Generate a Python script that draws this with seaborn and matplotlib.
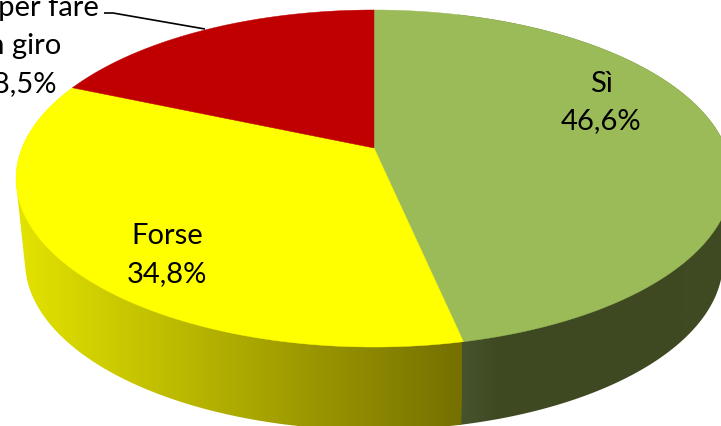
import numpy as np
import matplotlib
matplotlib.use("Agg")
import matplotlib.pyplot as plt
import seaborn as sns

# Survey answers, clockwise from twelve o'clock
categories = ["Sì", "Forse", "Solo per fare\nun giro"]
shares = [46.6, 34.8, 18.5]
top_colors = ["#9BBB59", "#FFFF00", "#C00000"]
wall_stops = [
    ["#47552E", "#3F4A22", "#3E4922", "#3E4922", "#3E4922", "#3E4922", "#3F4A22", "#3F4A22"],
    ["#E4E400", "#757000"],
]

sns.set_theme(style="white")
plt.rcParams["font.family"] = ["Lato", "DejaVu Sans"]

W, H = 721, 427
fig = plt.figure(figsize=(W / 100, H / 100), dpi=100)
ax = fig.add_axes([0, 0, 1, 1])
ax.axis("off")

# Perspective projection of the unit disc on the screen
CX, CY = 374.0, 149.0
RX, RY, PERSP = 352.0, 163.0, 0.181
DEPTH, BASE_SCALE = 83.0, 0.975


def project_top(theta):
    u, v = np.sin(theta), np.cos(theta)
    d = 1 + PERSP * v
    return CX + RX * u / d, CY - RY * v / d


def project_base(theta):
    x, y = project_top(theta)
    return CX + BASE_SCALE * (x - CX), y + DEPTH


fractions = np.array(shares) / 100.0
fractions = fractions / fractions.sum()
edges = np.concatenate([[0], np.cumsum(fractions)]) * 2 * np.pi


def wall_outline(start, stop):
    """Silhouette of a slice's rim: base arc where it shows, top arc elsewhere."""
    t = np.linspace(start, stop, 800)
    xt, yt = project_top(t)
    xb, yb = project_base(t)
    cross = np.gradient(xt) * (yb - yt) - np.gradient(yt) * (xb - xt)
    showing = cross < 0
    xs = np.where(showing, xb, xt)
    ys = np.where(showing, yb, yt)
    return np.column_stack([np.r_[CX, xt[0], xs, xt[-1]], np.r_[CY, yt[0], ys, yt[-1]]])


# Outer wall: a horizontal colour ramp clipped to each slice's rim.
# The first rim runs on slightly beneath the second to close the seam.
wall_spans = [(458.0, 721.0), (15.0, 462.0)]
overrun = [0.03, 0.0]
for i, (stops, (lo, hi)) in enumerate(zip(wall_stops, wall_spans)):
    ramp = np.array(sns.blend_palette(stops, 256))[np.newaxis, :, :]
    outline = plt.Polygon(wall_outline(edges[i], edges[i + 1] + overrun[i]),
                          closed=True, transform=ax.transData, facecolor="none",
                          edgecolor="none")
    ax.add_patch(outline)
    img = ax.imshow(ramp, extent=(lo, hi, H, 0), aspect="auto", zorder=2 + 0.1 * i,
                    interpolation="bilinear")
    img.set_clip_path(outline)

ax.set_xlim(0, W)
ax.set_ylim(H, 0)

# Flat top of each slice
for i, color in enumerate(top_colors):
    t = np.linspace(edges[i], edges[i + 1], 400)
    x, y = project_top(t)
    ax.fill(np.r_[CX, x], np.r_[CY, y], facecolor=color, edgecolor=color,
            linewidth=0.3, zorder=3)

# Slice labels
label_pos = [(601, 102.5), (167, 255), (17, 46)]
for name, share, (lx, ly) in zip(categories, shares, label_pos):
    text = f"{name}\n{share:.1f}%".replace(".", ",")
    ax.text(lx, ly, text, ha="center", va="center", fontsize=21,
            color="black", linespacing=1.56, zorder=5, clip_on=False)

# Leader from the label to its slice
ax.plot([104, 113, 205], [14, 14, 30], color="black", lw=1.2, zorder=4,
        solid_capstyle="butt")

fig.savefig("out.png", dpi=100, facecolor="white")
